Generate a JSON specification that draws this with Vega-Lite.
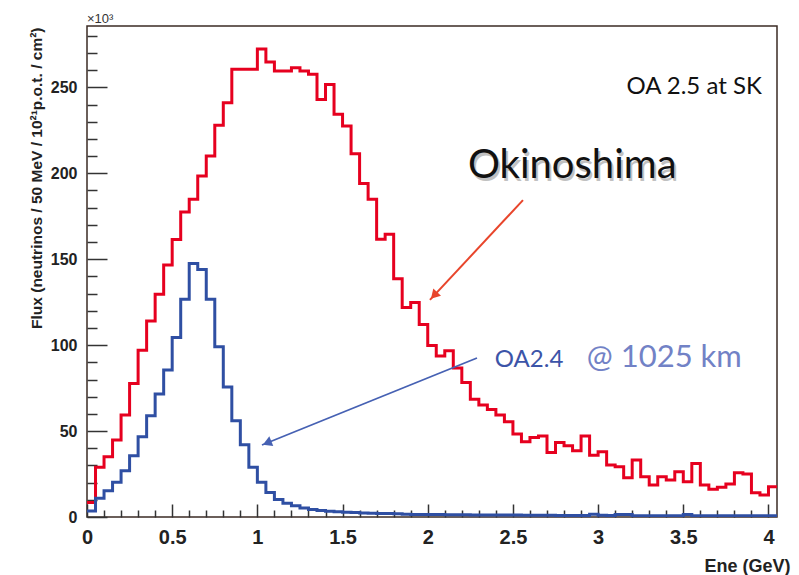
{
  "$schema": "https://vega.github.io/schema/vega-lite/v6.json",
  "width": 690,
  "height": 491,
  "autosize": {"type": "none"},
  "padding": {"left": 87, "top": 26, "right": 22, "bottom": 58},
  "background": "white",
  "config": {
    "view": {"stroke": "#3b2b25", "strokeWidth": 1.5},
    "axis": {"grid": false, "domain": false, "tickColor": "#333333", "tickWidth": 1.5}
  },
  "datasets": {
    "flux": [
      {"e": 0, "okinoshima": 8.5, "oa24": 3.5},
      {"e": 0.05, "okinoshima": 28.9, "oa24": 10.9},
      {"e": 0.1, "okinoshima": 35, "oa24": 15.3},
      {"e": 0.15, "okinoshima": 44.8, "oa24": 20.2},
      {"e": 0.2, "okinoshima": 59.3, "oa24": 26.9},
      {"e": 0.25, "okinoshima": 77.7, "oa24": 35.6},
      {"e": 0.3, "okinoshima": 97, "oa24": 46.7},
      {"e": 0.35, "okinoshima": 114, "oa24": 58.9},
      {"e": 0.4, "okinoshima": 129.6, "oa24": 71.5},
      {"e": 0.45, "okinoshima": 146.7, "oa24": 85.5},
      {"e": 0.5, "okinoshima": 161.4, "oa24": 104.5},
      {"e": 0.55, "okinoshima": 177.5, "oa24": 126.7},
      {"e": 0.6, "okinoshima": 184.9, "oa24": 147.5},
      {"e": 0.65, "okinoshima": 198.4, "oa24": 144},
      {"e": 0.7, "okinoshima": 210, "oa24": 126.7},
      {"e": 0.75, "okinoshima": 227.9, "oa24": 99},
      {"e": 0.8, "okinoshima": 241, "oa24": 75.6},
      {"e": 0.85, "okinoshima": 260.5, "oa24": 56},
      {"e": 0.9, "okinoshima": 260.5, "oa24": 42},
      {"e": 0.95, "okinoshima": 260.5, "oa24": 28.9},
      {"e": 1, "okinoshima": 272.3, "oa24": 20.2},
      {"e": 1.05, "okinoshima": 264.7, "oa24": 14.3},
      {"e": 1.1, "okinoshima": 259.5, "oa24": 10.2},
      {"e": 1.15, "okinoshima": 259.5, "oa24": 8},
      {"e": 1.2, "okinoshima": 261.4, "oa24": 6.5},
      {"e": 1.25, "okinoshima": 259.5, "oa24": 5.3},
      {"e": 1.3, "okinoshima": 257.6, "oa24": 4.4},
      {"e": 1.35, "okinoshima": 243, "oa24": 3.8},
      {"e": 1.4, "okinoshima": 251.7, "oa24": 3.4},
      {"e": 1.45, "okinoshima": 234.3, "oa24": 3},
      {"e": 1.5, "okinoshima": 227.5, "oa24": 2.7},
      {"e": 1.55, "okinoshima": 211.4, "oa24": 2.6},
      {"e": 1.6, "okinoshima": 194, "oa24": 2.3},
      {"e": 1.65, "okinoshima": 184.9, "oa24": 2.2},
      {"e": 1.7, "okinoshima": 161.6, "oa24": 2.1},
      {"e": 1.75, "okinoshima": 164.5, "oa24": 2},
      {"e": 1.8, "okinoshima": 138.6, "oa24": 1.9},
      {"e": 1.85, "okinoshima": 121.9, "oa24": 1.6},
      {"e": 1.9, "okinoshima": 124.8, "oa24": 1.5},
      {"e": 1.95, "okinoshima": 112, "oa24": 1.5},
      {"e": 2, "okinoshima": 99.8, "oa24": 1.4},
      {"e": 2.05, "okinoshima": 93.7, "oa24": 1.4},
      {"e": 2.1, "okinoshima": 96.8, "oa24": 1.3},
      {"e": 2.15, "okinoshima": 86.7, "oa24": 1.3},
      {"e": 2.2, "okinoshima": 78.3, "oa24": 1.3},
      {"e": 2.25, "okinoshima": 68.5, "oa24": 1.2},
      {"e": 2.3, "okinoshima": 65.1, "oa24": 1.2},
      {"e": 2.35, "okinoshima": 62.6, "oa24": 1.2},
      {"e": 2.4, "okinoshima": 59.3, "oa24": 1.1},
      {"e": 2.45, "okinoshima": 55.4, "oa24": 1.1},
      {"e": 2.5, "okinoshima": 48.3, "oa24": 1.1},
      {"e": 2.55, "okinoshima": 43.8, "oa24": 1},
      {"e": 2.6, "okinoshima": 46.3, "oa24": 1},
      {"e": 2.65, "okinoshima": 47.1, "oa24": 1},
      {"e": 2.7, "okinoshima": 37.6, "oa24": 1},
      {"e": 2.75, "okinoshima": 43.4, "oa24": 0.9},
      {"e": 2.8, "okinoshima": 41.5, "oa24": 0.9},
      {"e": 2.85, "okinoshima": 38.5, "oa24": 0.9},
      {"e": 2.9, "okinoshima": 47.1, "oa24": 0.9},
      {"e": 2.95, "okinoshima": 36, "oa24": 1.6},
      {"e": 3, "okinoshima": 38, "oa24": 1},
      {"e": 3.05, "okinoshima": 30.2, "oa24": 0.9},
      {"e": 3.1, "okinoshima": 29.2, "oa24": 1.5},
      {"e": 3.15, "okinoshima": 22.8, "oa24": 1.4},
      {"e": 3.2, "okinoshima": 33.1, "oa24": 0.8},
      {"e": 3.25, "okinoshima": 23.4, "oa24": 0.8},
      {"e": 3.3, "okinoshima": 18.6, "oa24": 0.8},
      {"e": 3.35, "okinoshima": 23.4, "oa24": 0.8},
      {"e": 3.4, "okinoshima": 21.5, "oa24": 0.8},
      {"e": 3.45, "okinoshima": 26.3, "oa24": 0.8},
      {"e": 3.5, "okinoshima": 20.5, "oa24": 1.4},
      {"e": 3.55, "okinoshima": 31.2, "oa24": 0.7},
      {"e": 3.6, "okinoshima": 18.6, "oa24": 0.7},
      {"e": 3.65, "okinoshima": 16.1, "oa24": 0.7},
      {"e": 3.7, "okinoshima": 17.3, "oa24": 0.7},
      {"e": 3.75, "okinoshima": 19.2, "oa24": 0.7},
      {"e": 3.8, "okinoshima": 25.8, "oa24": 0.7},
      {"e": 3.85, "okinoshima": 25, "oa24": 0.7},
      {"e": 3.9, "okinoshima": 14.1, "oa24": 0.7},
      {"e": 3.95, "okinoshima": 12.8, "oa24": 0.7},
      {"e": 4, "okinoshima": 17.6, "oa24": 0.7},
      {"e": 4.05, "okinoshima": 17.6, "oa24": 0.7}
    ]
  },
  "resolve": {"axis": {"x": "independent", "y": "independent"}},
  "layer": [
    {
      "data": {"name": "flux"},
      "mark": {"type": "line", "interpolate": "step-after", "color": "#e6001f", "strokeWidth": 3, "clip": true},
      "encoding": {
        "x": {
          "field": "e", "type": "quantitative",
          "scale": {"domain": [0, 4.05], "nice": false, "zero": false},
          "axis": {
            "orient": "bottom", "values": [0, 0.5, 1, 1.5, 2, 2.5, 3, 3.5, 4], "format": ".1~f",
            "ticks": false, "tickSize": 0, "labelPadding": 10, "labelFlush": false, "labelOverlap": false,
            "labelFont": "Liberation Sans", "labelFontWeight": "bold", "labelFontSize": 20, "labelColor": "#222222",
            "title": "Ene (GeV)", "titleFont": "Liberation Sans", "titleFontWeight": "bold", "titleFontSize": 18,
            "titleColor": "#222222", "titleAnchor": "end", "titleAlign": "right", "titleBaseline": "middle",
            "titleX": 703, "titleY": 49
          }
        },
        "y": {
          "field": "okinoshima", "type": "quantitative",
          "scale": {"domain": [0, 285.7], "nice": false},
          "axis": {
            "orient": "left", "values": [0, 50, 100, 150, 200, 250],
            "ticks": false, "tickSize": 0, "labelPadding": 10, "labelFlush": false, "labelOverlap": false,
            "labelFont": "Liberation Sans", "labelFontWeight": "bold", "labelFontSize": 16, "labelColor": "#222222",
            "title": "Flux (neutrinos / 50 MeV / 10²¹p.o.t. / cm²)", "titleFont": "Liberation Sans",
            "titleFontWeight": "bold", "titleFontSize": 15.5, "titleColor": "#222222",
            "titleAngle": -90, "titleAnchor": "end", "titleAlign": "right", "titleBaseline": "middle",
            "titleX": -51, "titleY": 1
          }
        }
      }
    },
    {
      "data": {"name": "flux"},
      "mark": {"type": "line", "interpolate": "step-after", "color": "#2f4fa3", "strokeWidth": 3, "clip": true},
      "encoding": {
        "x": {
          "field": "e", "type": "quantitative",
          "axis": {"orient": "bottom", "values": [0, 0.5, 1, 1.5, 2, 2.5, 3, 3.5, 4], "labels": false, "ticks": true, "tickSize": -13, "title": null}
        },
        "y": {
          "field": "oa24", "type": "quantitative",
          "axis": {"orient": "left", "values": [0, 50, 100, 150, 200, 250], "labels": false, "ticks": true, "tickSize": -20, "title": null}
        }
      }
    },
    {
      "data": {"values": [{"e": 0.0, "flux": 287.7, "label": "×10³"}]},
      "mark": {"type": "text", "align": "left", "baseline": "alphabetic", "font": "Liberation Sans", "fontSize": 13, "color": "#333333"},
      "encoding": {
        "x": {
          "field": "e", "type": "quantitative",
          "axis": {"orient": "bottom", "values": [0.1, 0.2, 0.3, 0.4, 0.6, 0.7, 0.8, 0.9, 1.1, 1.2, 1.3, 1.4, 1.6, 1.7, 1.8, 1.9, 2.1, 2.2, 2.3, 2.4, 2.6, 2.7, 2.8, 2.9, 3.1, 3.2, 3.3, 3.4, 3.6, 3.7, 3.8, 3.9], "labels": false, "ticks": true, "tickSize": -7, "title": null}
        },
        "y": {
          "field": "flux", "type": "quantitative",
          "axis": {"orient": "left", "values": [10, 20, 30, 40, 60, 70, 80, 90, 110, 120, 130, 140, 160, 170, 180, 190, 210, 220, 230, 240, 260, 270, 280], "labels": false, "ticks": true, "tickSize": -10, "title": null}
        },
        "text": {"field": "label"}
      }
    },
    {
      "data": {"values": [{"e": 3.961, "flux": 246.1, "label": "OA 2.5 at SK"}]},
      "mark": {"type": "text", "align": "right", "baseline": "alphabetic", "font": "Lato", "fontSize": 24, "color": "#111111"},
      "encoding": {
        "x": {"field": "e", "type": "quantitative", "axis": null},
        "y": {"field": "flux", "type": "quantitative", "axis": null},
        "text": {"field": "label"}
      }
    },
    {
      "data": {"values": [{"e": 2.236, "flux": 197.2, "label": "Okinoshima"}]},
      "mark": {"type": "text", "align": "left", "baseline": "alphabetic", "font": "Lato", "fontSize": 40, "color": "#777777", "opacity": 0.45, "dx": 2, "dy": 3},
      "encoding": {
        "x": {"field": "e", "type": "quantitative", "axis": null},
        "y": {"field": "flux", "type": "quantitative", "axis": null},
        "text": {"field": "label"}
      }
    },
    {
      "data": {"values": [{"e": 2.236, "flux": 197.2, "label": "Okinoshima"}]},
      "mark": {"type": "text", "align": "left", "baseline": "alphabetic", "font": "Lato", "fontSize": 40, "color": "#111111"},
      "encoding": {
        "x": {"field": "e", "type": "quantitative", "axis": null},
        "y": {"field": "flux", "type": "quantitative", "axis": null},
        "text": {"field": "label"}
      }
    },
    {
      "data": {"values": [{"e": 2.394, "flux": 87.3, "label": "OA2.4"}]},
      "mark": {"type": "text", "align": "left", "baseline": "alphabetic", "font": "Lato", "fontSize": 24, "color": "#3c54a8"},
      "encoding": {
        "x": {"field": "e", "type": "quantitative", "axis": null},
        "y": {"field": "flux", "type": "quantitative", "axis": null},
        "text": {"field": "label"}
      }
    },
    {
      "data": {"values": [{"e": 2.934, "flux": 87.3, "label": "@ 1025 km"}]},
      "mark": {"type": "text", "align": "left", "baseline": "alphabetic", "font": "Lato", "fontSize": 31, "color": "#7282c6"},
      "encoding": {
        "x": {"field": "e", "type": "quantitative", "axis": null},
        "y": {"field": "flux", "type": "quantitative", "axis": null},
        "text": {"field": "label"}
      }
    },
    {
      "data": {"values": [{"e": 2.559, "flux": 184.4, "e2": 2.013, "flux2": 126.3}]},
      "mark": {"type": "rule", "color": "#e8452b", "strokeWidth": 2},
      "encoding": {
        "x": {"field": "e", "type": "quantitative", "axis": null},
        "y": {"field": "flux", "type": "quantitative", "axis": null},
        "x2": {"field": "e2"},
        "y2": {"field": "flux2"}
      }
    },
    {
      "data": {"values": [{"e": 2.037, "flux": 128.9}]},
      "mark": {"type": "point", "shape": "triangle-up", "filled": true, "size": 110, "angle": 223, "color": "#e8452b", "opacity": 1},
      "encoding": {
        "x": {"field": "e", "type": "quantitative", "axis": null},
        "y": {"field": "flux", "type": "quantitative", "axis": null}
      }
    },
    {
      "data": {"values": [{"e": 2.289, "flux": 92.5, "e2": 1.027, "flux2": 41.9}]},
      "mark": {"type": "rule", "color": "#4661b3", "strokeWidth": 1.8},
      "encoding": {
        "x": {"field": "e", "type": "quantitative", "axis": null},
        "y": {"field": "flux", "type": "quantitative", "axis": null},
        "x2": {"field": "e2"},
        "y2": {"field": "flux2"}
      }
    },
    {
      "data": {"values": [{"e": 1.057, "flux": 43.1}]},
      "mark": {"type": "point", "shape": "triangle-up", "filled": true, "size": 110, "angle": 248, "color": "#4661b3", "opacity": 1},
      "encoding": {
        "x": {"field": "e", "type": "quantitative", "axis": null},
        "y": {"field": "flux", "type": "quantitative", "axis": null}
      }
    }
  ]
}
